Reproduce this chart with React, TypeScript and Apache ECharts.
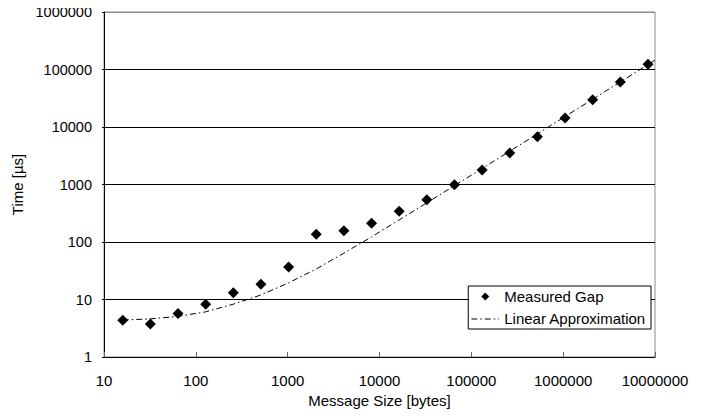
import React, { useEffect, useRef } from "react";
import * as echarts from "echarts";

const messageSizes = [16, 32, 64, 128, 256, 512, 1024, 2048, 4096, 8192, 16384, 32768, 65536, 131072, 262144, 524288, 1048576, 2097152, 4194304, 8388608];
const measuredGap = [4.35, 3.75, 5.7, 8.3, 13.1, 18.4, 36.7, 136, 157, 211, 342, 544, 990, 1790, 3530, 6750, 14350, 29850, 60600, 123000];

const approxSizes = [16, 32, 64, 128, 256, 512, 1024, 2048, 4096, 8192, 16384, 32768, 65536, 131072, 262144, 524288, 1048576, 2097152, 4194304, 8388608, 10000000];
const approxTime = [4.4, 4.6, 5.1, 6.1, 8.3, 12, 19.5, 34, 64, 123, 242, 480, 955, 1900, 3800, 7600, 15200, 30400, 60800, 122000, 145000];

const seriesNames = ["Measured Gap", "Linear Approximation"];
const xAxisTitle = "Message Size [bytes]";
const yAxisTitle = "Time [µs]";

const FONT = "'Liberation Sans', Arial, Helvetica, sans-serif";

const svgIcon = (body: string) =>
  "image://data:image/svg+xml;charset=utf-8," +
  encodeURIComponent(
    '<svg xmlns="http://www.w3.org/2000/svg" width="28" height="14" viewBox="0 0 28 14">' + body + "</svg>"
  );

const diamondIcon = svgIcon('<polygon points="14,3 18,7 14,11 10,7" fill="#000"/>');
const dashDotIcon = svgIcon(
  '<line x1="0" y1="7.5" x2="28" y2="7.5" stroke="#000" stroke-width="1" stroke-dasharray="6 3 1.5 3"/>'
);

export default function App() {
  const ref = useRef<HTMLDivElement>(null);
  useEffect(() => {
    if (!ref.current) return;
    const chart = echarts.init(ref.current, undefined, { renderer: "svg" });
    const fmt = (v: number) => String(Math.round(v));
    chart.setOption({
      animation: false,
      backgroundColor: "#fff",
      textStyle: { fontFamily: FONT },
      grid: {
        left: 104,
        right: 55,
        top: 12,
        bottom: 60,
        show: true,
        borderColor: "#8c8c8c",
        borderWidth: 1,
        backgroundColor: "transparent",
      },
      legend: {
        orient: "vertical",
        right: 59,
        bottom: 88,
        backgroundColor: "#fff",
        borderColor: "#000",
        borderWidth: 1,
        borderRadius: 0,
        padding: [3, 5, 3, 3],
        itemWidth: 28,
        itemHeight: 14,
        itemGap: 7,
        textStyle: { fontSize: 15, color: "#000", fontFamily: FONT },
        data: [
          { name: seriesNames[0], icon: diamondIcon },
          { name: seriesNames[1], icon: dashDotIcon },
        ],
      },
      xAxis: {
        type: "log",
        logBase: 10,
        min: 10,
        max: 10000000,
        name: xAxisTitle,
        nameLocation: "middle",
        nameGap: 36,
        nameTextStyle: { fontSize: 15, color: "#000", fontFamily: FONT },
        axisLine: { show: true, lineStyle: { color: "#000", width: 1 } },
        axisTick: { show: true, inside: true, length: 5, lineStyle: { color: "#666" } },
        axisLabel: { fontSize: 15, color: "#000", margin: 16, formatter: fmt, fontFamily: FONT },
        splitLine: { show: false },
        minorTick: { show: false },
      },
      yAxis: {
        type: "log",
        logBase: 10,
        min: 1,
        max: 1000000,
        name: yAxisTitle,
        nameLocation: "middle",
        nameGap: 68,
        nameTextStyle: { fontSize: 15, color: "#000", fontFamily: FONT },
        axisLine: { show: true, lineStyle: { color: "#000", width: 1 } },
        axisTick: { show: true, inside: false, length: 2, lineStyle: { color: "#000" } },
        axisLabel: { fontSize: 14.5, color: "#000", margin: 12, formatter: fmt, fontFamily: FONT },
        splitLine: {
          show: true,
          lineStyle: {
            color: ["#000", "#000", "#000", "#000", "#000", "#000", "#8c8c8c"],
            width: 1,
          },
        },
      },
      series: [
        {
          name: seriesNames[1],
          type: "line",
          data: approxSizes.map((x, i) => [x, approxTime[i]]),
          symbol: "none",
          smooth: false,
          clip: true,
          lineStyle: { color: "#000", width: 1, type: [6, 3, 1.5, 3] },
          itemStyle: { color: "#000" },
          z: 2,
        },
        {
          name: seriesNames[0],
          type: "scatter",
          data: messageSizes.map((x, i) => [x, measuredGap[i]]),
          symbol: "diamond",
          symbolSize: 11,
          itemStyle: { color: "#000", opacity: 1 },
          z: 3,
        },
      ],
    });
    return () => chart.dispose();
  }, []);
  return <div ref={ref} style={{ width: 710, height: 417, margin: -8 }} />;
}
